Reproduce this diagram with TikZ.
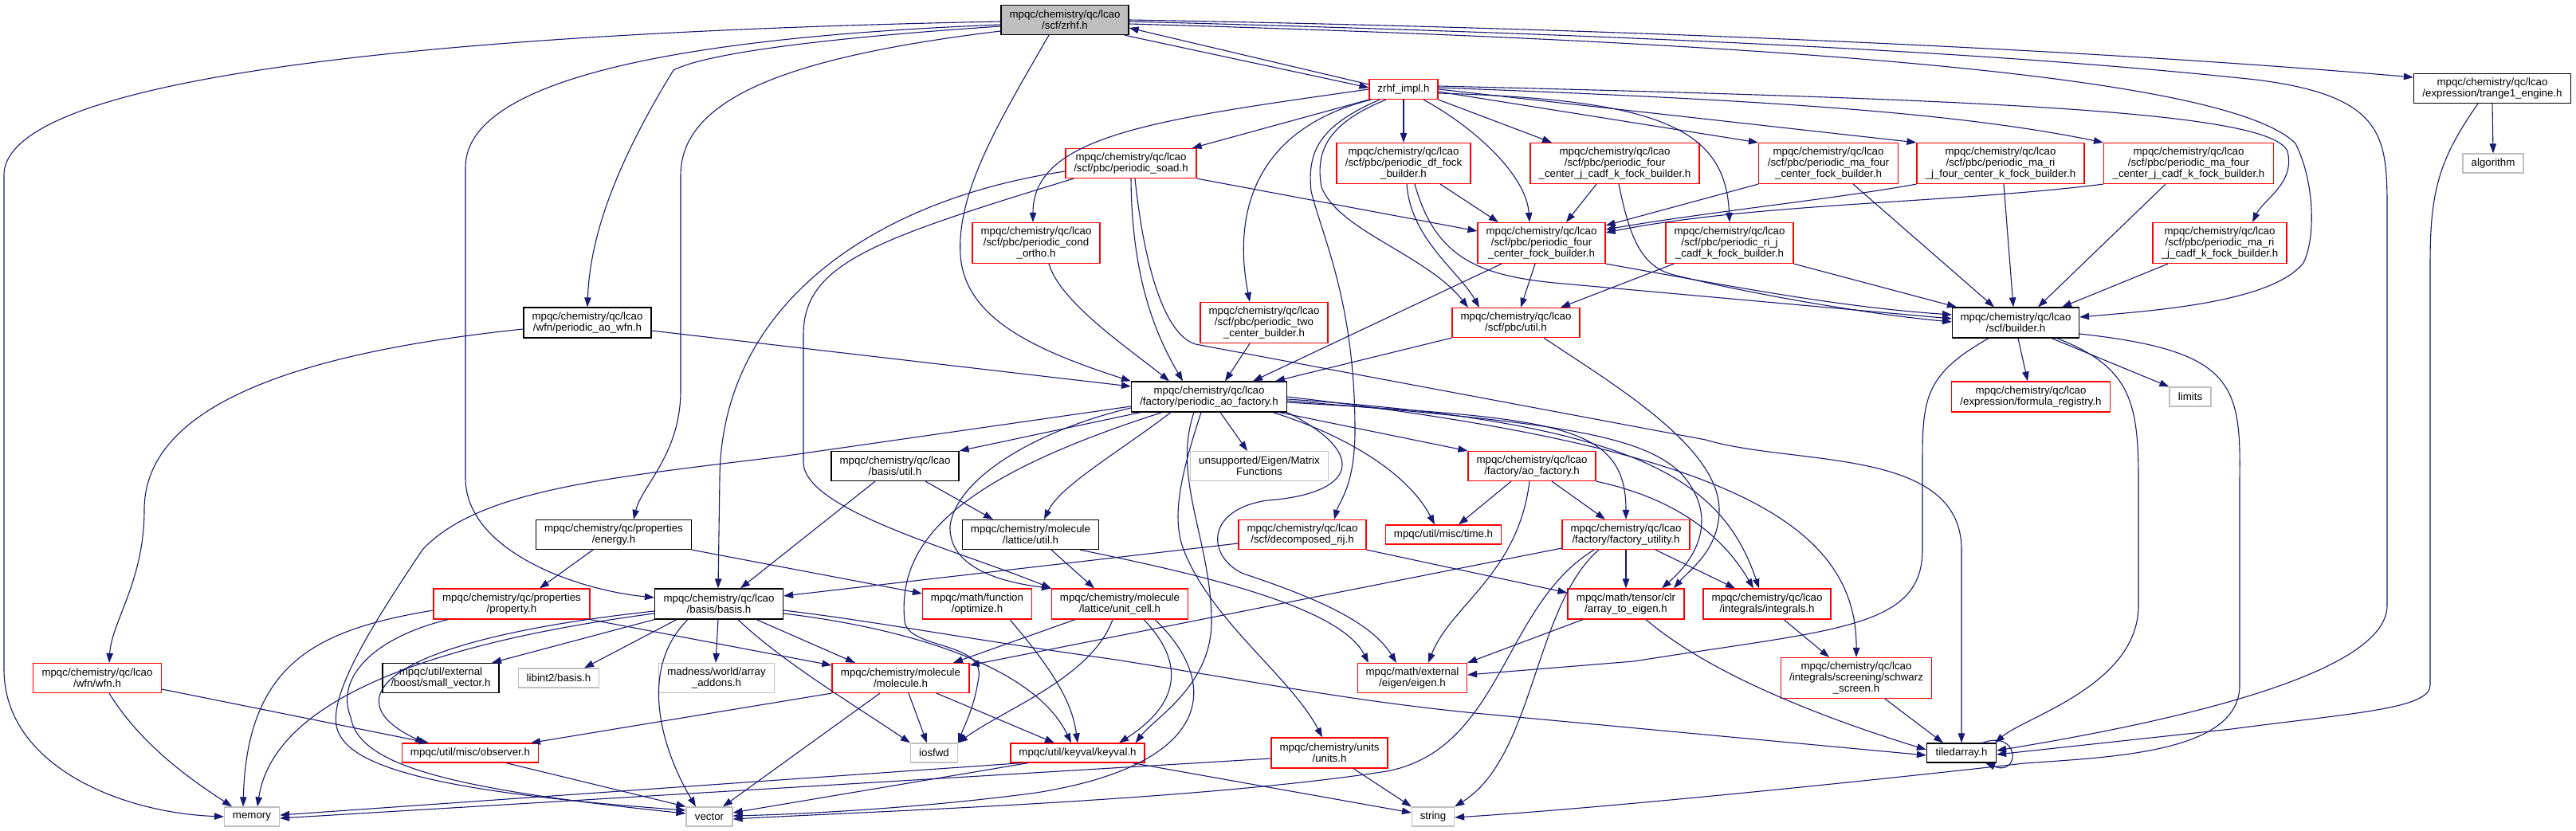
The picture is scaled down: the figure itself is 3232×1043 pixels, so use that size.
\documentclass[tikz,border=0pt]{standalone}
\usepackage{fontspec}
\setmainfont{Liberation Sans}
\usepackage{tikz}
\usetikzlibrary{arrows.meta}
\definecolor{edgeblue}{HTML}{191970}
\definecolor{nodegrey}{HTML}{BFBFBF}

\begin{document}
\begin{tikzpicture}[x=1pt, y=-1pt,
    box/.style={rectangle, draw, line width=1.2pt, fill=white, align=center, inner xsep=3pt, inner ysep=1pt, font=\fontsize{13.3}{13.6}\selectfont},
    boxred/.style={box, draw=red},
    boxblack/.style={box, draw=black},
    boxgrey/.style={box, draw=nodegrey},
    boxsel/.style={box, draw=black, fill=nodegrey},
    arrow/.style={-{Triangle[length=12pt,width=8.5pt]}, line width=1.1pt, draw=edgeblue}
]
    \path [use as bounding box, fill=white] (0,0) rectangle (3232,1043);

    \node [boxsel, minimum width=160pt, minimum height=37pt] (zrhf) at (1336,25) {mpqc/chemistry/qc/lcao\\/scf/zrhf.h};
    \node [boxred, minimum width=86pt, minimum height=25pt] (impl) at (1761,112) {zrhf\_impl.h};
    \node [boxred, minimum width=164pt, minimum height=37pt] (soad) at (1419,205) {mpqc/chemistry/qc/lcao\\/scf/pbc/periodic\_soad.h};
    \node [boxred, minimum width=160pt, minimum height=51pt] (cond) at (1300,305) {mpqc/chemistry/qc/lcao\\/scf/pbc/periodic\_cond\\\_ortho.h};
    \node [boxred, minimum width=168pt, minimum height=51pt] (dffock) at (1761,205) {mpqc/chemistry/qc/lcao\\/scf/pbc/periodic\_df\_fock\\\_builder.h};
    \node [boxred, minimum width=212pt, minimum height=51pt] (fourjk) at (2026,205) {mpqc/chemistry/qc/lcao\\/scf/pbc/periodic\_four\\\_center\_j\_cadf\_k\_fock\_builder.h};
    \node [boxred, minimum width=160pt, minimum height=51pt] (fourfock) at (1934,305) {mpqc/chemistry/qc/lcao\\/scf/pbc/periodic\_four\\\_center\_fock\_builder.h};
    \node [boxred, minimum width=175pt, minimum height=51pt] (mafour) at (2294,205) {mpqc/chemistry/qc/lcao\\/scf/pbc/periodic\_ma\_four\\\_center\_fock\_builder.h};
    \node [boxred, minimum width=210pt, minimum height=51pt] (marifour) at (2510,205) {mpqc/chemistry/qc/lcao\\/scf/pbc/periodic\_ma\_ri\\\_j\_four\_center\_k\_fock\_builder.h};
    \node [boxred, minimum width=213pt, minimum height=51pt] (mafourjk) at (2746,205) {mpqc/chemistry/qc/lcao\\/scf/pbc/periodic\_ma\_four\\\_center\_j\_cadf\_k\_fock\_builder.h};
    \node [boxred, minimum width=160pt, minimum height=51pt] (rijk) at (2170,305) {mpqc/chemistry/qc/lcao\\/scf/pbc/periodic\_ri\_j\\\_cadf\_k\_fock\_builder.h};
    \node [boxred, minimum width=168pt, minimum height=51pt] (marijk) at (2785,305) {mpqc/chemistry/qc/lcao\\/scf/pbc/periodic\_ma\_ri\\\_j\_cadf\_k\_fock\_builder.h};
    \node [boxblack, minimum width=197pt, minimum height=37pt] (trange) at (3127,111) {mpqc/chemistry/qc/lcao\\/expression/trange1\_engine.h};
    \node [boxgrey, minimum width=76pt, minimum height=24pt] (algo) at (3128,205) {algorithm};
    \node [boxblack, minimum width=160pt, minimum height=38pt] (aowfn) at (737,405) {mpqc/chemistry/qc/lcao\\/wfn/periodic\_ao\_wfn.h};
    \node [boxblack, minimum width=195pt, minimum height=37pt] (energy) at (770,671) {mpqc/chemistry/qc/properties\\/energy.h};
    \node [boxred, minimum width=160pt, minimum height=51pt] (twoc) at (1586,405) {mpqc/chemistry/qc/lcao\\/scf/pbc/periodic\_two\\\_center\_builder.h};
    \node [boxred, minimum width=160pt, minimum height=37pt] (pbcutil) at (1902,405) {mpqc/chemistry/qc/lcao\\/scf/pbc/util.h};
    \node [boxblack, minimum width=159pt, minimum height=38pt] (builder) at (2529,405) {mpqc/chemistry/qc/lcao\\/scf/builder.h};
    \node [boxblack, minimum width=195pt, minimum height=38pt] (paof) at (1517,498) {mpqc/chemistry/qc/lcao\\/factory/periodic\_ao\_factory.h};
    \node [boxred, minimum width=199pt, minimum height=38pt] (formula) at (2548,498) {mpqc/chemistry/qc/lcao\\/expression/formula\_registry.h};
    \node [boxgrey, minimum width=52pt, minimum height=24pt] (limits) at (2748,498) {limits};
    \node [boxblack, minimum width=160pt, minimum height=37pt] (butil) at (1123,585) {mpqc/chemistry/qc/lcao\\/basis/util.h};
    \node [boxgrey, minimum width=173pt, minimum height=37pt] (eigmf) at (1580,585) {unsupported/Eigen/Matrix\\Functions};
    \node [boxred, minimum width=160pt, minimum height=37pt] (aof) at (1922,585) {mpqc/chemistry/qc/lcao\\/factory/ao\_factory.h};
    \node [boxblack, minimum width=171pt, minimum height=37pt] (lutil) at (1293,671) {mpqc/chemistry/molecule\\/lattice/util.h};
    \node [boxred, minimum width=160pt, minimum height=37pt] (drij) at (1634,671) {mpqc/chemistry/qc/lcao\\/scf/decomposed\_rij.h};
    \node [boxred, minimum width=145pt, minimum height=24pt] (time) at (1811,671) {mpqc/util/misc/time.h};
    \node [boxred, minimum width=160pt, minimum height=37pt] (futil) at (2040,671) {mpqc/chemistry/qc/lcao\\/factory/factory\_utility.h};
    \node [boxred, minimum width=196pt, minimum height=38pt] (prop) at (642,758) {mpqc/chemistry/qc/properties\\/property.h};
    \node [boxblack, minimum width=161pt, minimum height=38pt] (basis) at (902,758) {mpqc/chemistry/qc/lcao\\/basis/basis.h};
    \node [boxred, minimum width=137pt, minimum height=38pt] (optim) at (1226,758) {mpqc/math/function\\/optimize.h};
    \node [boxred, minimum width=171pt, minimum height=38pt] (ucell) at (1405,758) {mpqc/chemistry/molecule\\/lattice/unit\_cell.h};
    \node [boxred, minimum width=146pt, minimum height=38pt] (atoe) at (2040,758) {mpqc/math/tensor/clr\\/array\_to\_eigen.h};
    \node [boxred, minimum width=160pt, minimum height=38pt] (integ) at (2217,758) {mpqc/chemistry/qc/lcao\\/integrals/integrals.h};
    \node [boxred, minimum width=161pt, minimum height=37pt] (wfn) at (122,851) {mpqc/chemistry/qc/lcao\\/wfn/wfn.h};
    \node [boxblack, minimum width=146pt, minimum height=37pt] (svec) at (553,851) {mpqc/util/external\\/boost/small\_vector.h};
    \node [boxgrey, minimum width=101pt, minimum height=24pt] (libint) at (701,851) {libint2/basis.h};
    \node [boxgrey, minimum width=145pt, minimum height=37pt] (madness) at (899,851) {madness/world/array\\\_addons.h};
    \node [boxred, minimum width=172pt, minimum height=37pt] (mol) at (1130,851) {mpqc/chemistry/molecule\\/molecule.h};
    \node [boxred, minimum width=137pt, minimum height=37pt] (eigen) at (1772,851) {mpqc/math/external\\/eigen/eigen.h};
    \node [boxred, minimum width=189pt, minimum height=51pt] (schwarz) at (2329,851) {mpqc/chemistry/qc/lcao\\/integrals/screening/schwarz\\\_screen.h};
    \node [boxred, minimum width=171pt, minimum height=24pt] (observer) at (590,945) {mpqc/util/misc/observer.h};
    \node [boxgrey, minimum width=59pt, minimum height=24pt] (iosfwd) at (1172,945) {iosfwd};
    \node [boxred, minimum width=168pt, minimum height=24pt] (keyval) at (1352,945) {mpqc/util/keyval/keyval.h};
    \node [boxred, minimum width=146pt, minimum height=38pt] (units) at (1668,945) {mpqc/chemistry/units\\/units.h};
    \node [boxblack, minimum width=87pt, minimum height=24pt] (tiled) at (2461,945) {tiledarray.h};
    \node [boxgrey, minimum width=69pt, minimum height=24pt] (memory) at (316,1025) {memory};
    \node [boxgrey, minimum width=58pt, minimum height=24pt] (vector) at (890,1025) {vector};
    \node [boxgrey, minimum width=53pt, minimum height=24pt] (string) at (1798,1025) {string};

    \draw [arrow] ([yshift=-2pt]zrhf.west) .. controls (600,40) and (5,90) .. (5,220) -- (5,840) .. controls (5,960) and (150,1020) .. (memory.west);
    \draw [arrow] ([yshift=-6pt]zrhf.west) .. controls (900,45) and (584,90) .. (584,210) -- (584,600) .. controls (584,690) and (720,740) .. ([yshift=8pt]basis.west);
    \draw [arrow] ([yshift=-8pt]zrhf.west) .. controls (1000,50) and (880,70) .. (845,88) .. controls (770,210) and (740,300) .. (aowfn.north);
    \draw [arrow] ([yshift=-14pt]zrhf.west) .. controls (1000,70) and (854,120) .. (854,220) -- (854,490) .. controls (854,570) and (805,610) .. ([xshift=25pt]energy.north);
    \draw [arrow] ([xshift=-20pt]zrhf.south) .. controls (1255,150) and (1200,240) .. (1205,320) .. controls (1210,400) and (1300,440) .. (paof.north west);
    \draw [arrow] ([xshift=-6pt]zrhf.south east) -- ([yshift=2pt]impl.west);
    \draw [arrow] ([yshift=6pt]impl.west) -- ([yshift=-10pt]zrhf.east);
    \draw [arrow] (zrhf.east) .. controls (2000,35) and (2600,60) .. ([yshift=14pt]trange.west);
    \draw [arrow] ([yshift=-2pt]zrhf.east) .. controls (2300,50) and (2640,80) .. (2830,100) .. controls (2990,120) and (2995,170) .. (2995,260) -- (2995,760) .. controls (2995,850) and (2700,910) .. ([yshift=3pt]tiled.east);
    \draw [arrow] ([yshift=-5pt]zrhf.east) .. controls (2300,55) and (2800,100) .. (2880,180) .. controls (2905,230) and (2905,300) .. (2890,330) .. controls (2850,380) and (2700,390) .. ([yshift=7pt]builder.east);

    \draw [arrow] (impl.south west) -- ([xshift=-6pt]soad.north east);
    \draw [arrow] (impl.west) .. controls (1450,150) and (1296,170) .. ([xshift=-4pt]cond.north);
    \draw [arrow] (impl.south) -- (dffock.north);
    \draw [arrow] (impl.south east) -- ([xshift=-79pt]fourjk.north);
    \draw [arrow] ([xshift=25pt]impl.south) .. controls (1850,160) and (1915,220) .. ([xshift=-15pt]fourfock.north);
    \draw [arrow] ([yshift=-3pt]impl.east) -- (mafour.north west);
    \draw [arrow] (impl.east) -- (marifour.north west);
    \draw [arrow] ([yshift=2pt]impl.east) .. controls (2200,125) and (2450,140) .. (mafourjk.north west);
    \draw [arrow] ([yshift=-5pt]impl.east) .. controls (2080,125) and (2165,160) .. (rijk.north);
    \draw [arrow] ([yshift=4pt]impl.east) .. controls (2500,125) and (2850,140) .. (2870,190) .. controls (2880,230) and (2840,250) .. ([xshift=41pt]marijk.north);
    \draw [arrow] ([xshift=3pt]impl.south west) .. controls (1580,160) and (1545,260) .. ([xshift=-18pt]twoc.north);
    \draw [arrow] ([xshift=-30pt]impl.south) .. controls (1655,158) and (1640,190) .. (1645,240) .. controls (1660,300) and (1700,380) .. (1700,540) .. controls (1700,610) and (1680,630) .. ([xshift=40pt]drij.north);
    \draw [arrow] ([xshift=-22pt]impl.south) .. controls (1665,155) and (1650,190) .. (1658,235) .. controls (1680,290) and (1790,320) .. ([xshift=-60pt]pbcutil.north);

    \draw [arrow] ([xshift=46pt]dffock.south) -- ([xshift=-54pt]fourfock.north);
    \draw [arrow] ([xshift=4pt]dffock.south) .. controls (1770,300) and (1830,340) .. ([xshift=-46pt]pbcutil.north);
    \draw [arrow] ([xshift=14pt]dffock.south) .. controls (1800,320) and (1850,345) .. (1950,355) -- ([yshift=5pt]builder.west);
    \draw [arrow] ([xshift=-8pt]fourfock.south) -- ([xshift=6pt]pbcutil.north);
    \draw [arrow] (fourfock.south east) .. controls (2150,355) and (2300,385) .. ([yshift=10pt]builder.west);
    \draw [arrow] ([xshift=-50pt]fourfock.south) -- ([xshift=55pt]paof.north);
    \draw [arrow] ([xshift=-23pt]fourjk.south) -- ([xshift=31pt]fourfock.north);
    \draw [arrow] ([xshift=5pt]fourjk.south) .. controls (2045,300) and (2060,335) .. (2100,345) .. controls (2200,370) and (2350,395) .. ([yshift=1pt]builder.west);
    \draw [arrow] (mafour.south west) -- ([yshift=22pt]fourfock.east);
    \draw [arrow] ([xshift=31pt]mafour.south) -- ([xshift=-27pt]builder.north);
    \draw [arrow] (marifour.south west) .. controls (2300,250) and (2150,265) .. ([yshift=17pt]fourfock.east);
    \draw [arrow] ([xshift=4pt]marifour.south) -- ([xshift=-3pt]builder.north);
    \draw [arrow] (mafourjk.south west) .. controls (2450,255) and (2200,255) .. ([yshift=13pt]fourfock.east);
    \draw [arrow] ([xshift=-29pt]mafourjk.south) -- ([xshift=28pt]builder.north);
    \draw [arrow] ([xshift=-70pt]rijk.south) -- ([xshift=56pt]pbcutil.north);
    \draw [arrow] (rijk.south east) -- ([xshift=6pt]builder.north west);
    \draw [arrow] ([xshift=-65pt]marijk.south) -- ([xshift=58pt]builder.north);

    \draw [arrow] (soad.south east) -- ([yshift=15pt]fourfock.west);
    \draw [arrow] (soad.south) .. controls (1420,350) and (1450,420) .. ([xshift=-33pt]paof.north);
    \draw [arrow] ([yshift=-10pt]soad.west) .. controls (1100,250) and (905,380) .. (903,600) -- ([xshift=-1pt]basis.north);
    \draw [arrow] ([xshift=-72pt]soad.south) .. controls (1100,300) and (1008,330) .. (1008,420) -- (1008,580) .. controls (1008,640) and (1200,690) .. (ucell.north west);
    \draw [arrow] ([xshift=5pt]soad.south) .. controls (1435,330) and (1460,420) .. (1500,432) -- (2140,552) .. controls (2250,585) and (2461,560) .. (2461,690) -- (tiled.north);
    \draw [arrow] ([xshift=16pt]cond.south) .. controls (1330,380) and (1420,440) .. ([xshift=-50pt]paof.north);
    \draw [arrow] ([xshift=-18pt]twoc.south) -- ([xshift=20pt]paof.north);
    \draw [arrow] (pbcutil.south west) -- ([xshift=83pt]paof.north);
    \draw [arrow] ([xshift=35pt]pbcutil.south) .. controls (2020,480) and (2157,560) .. (2157,640) .. controls (2157,690) and (2120,715) .. ([xshift=60pt]atoe.north);

    \draw [arrow] ([yshift=-10pt]aowfn.east) -- ([yshift=13pt]paof.west);
    \draw [arrow] ([yshift=-8pt]aowfn.west) .. controls (400,440) and (181,500) .. (181,640) .. controls (181,730) and (140,780) .. ([xshift=15pt]wfn.north);
    \draw [arrow] ([xshift=-26pt]energy.south) -- ([xshift=35pt]prop.north);
    \draw [arrow] (energy.south east) -- ([yshift=13pt]optim.west);

    \draw [arrow] ([yshift=-8pt]prop.west) .. controls (400,790) and (310,830) .. ([xshift=-11pt]memory.north);
    \draw [arrow] ([xshift=-80pt]prop.south) .. controls (470,800) and (420,850) .. (440,900) .. controls (450,960) and (560,990) .. ([yshift=4pt]vector.west);
    \draw [arrow] (prop.south east) -- ([yshift=16pt]mol.west);

    \draw [arrow] (basis.south west) -- ([xshift=64pt]svec.north);
    \draw [arrow] ([xshift=-53pt]basis.south) -- ([xshift=32pt]libint.north);
    \draw [arrow] ([xshift=-1pt]basis.south) -- ([xshift=-1pt]madness.north);
    \draw [arrow] ([xshift=-39pt]basis.south) .. controls (800,840) and (830,940) .. ([xshift=-17pt]vector.north);
    \draw [arrow] ([xshift=47pt]basis.south) -- ([xshift=-57pt]mol.north);
    \draw [arrow] ([xshift=24pt]basis.south) .. controls (980,830) and (1080,890) .. (iosfwd.north west);
    \draw [arrow] ([yshift=-12pt]basis.east) .. controls (1150,790) and (1300,840) .. ([xshift=-8pt]keyval.north);
    \draw [arrow] ([yshift=-8pt]basis.east) .. controls (1100,780) and (1200,800) .. (1400,828) .. controls (1600,860) and (1700,880) .. (1850,895) -- ([yshift=-3pt]tiled.west);
    \draw [arrow] ([yshift=-12pt]basis.west) .. controls (480,815) and (340,900) .. ([xshift=7pt]memory.north);
    \draw [arrow] ([yshift=-9pt]basis.west) .. controls (470,805) and (420,880) .. ([xshift=-57pt]observer.north);

    \draw [arrow] ([xshift=-86pt]paof.south) -- (butil.north east);
    \draw [arrow] ([yshift=-12pt]paof.west) -- (980,573) .. controls (760,600) and (600,615) .. (530,690) .. controls (470,780) and (405,880) .. (425,920) .. controls (445,965) and (560,995) .. ([yshift=8pt]vector.west);
    \draw [arrow] ([yshift=-14pt]paof.west) .. controls (1300,540) and (1200,600) .. (1192,660) .. controls (1190,710) and (1250,730) .. (ucell.north west);
    \draw [arrow] ([xshift=-59pt]paof.south) .. controls (1200,600) and (1125,680) .. (1135,780) .. controls (1140,815) and (1235,805) .. (1228,850) .. controls (1222,890) and (1210,910) .. (iosfwd.north east);
    \draw [arrow] ([xshift=-48pt]paof.south) .. controls (1400,570) and (1330,610) .. ([xshift=17pt]lutil.north);
    \draw [arrow] ([xshift=14pt]paof.south) -- ([xshift=-15pt]eigmf.north);
    \draw [arrow] ([xshift=88pt]paof.south) -- (aof.north west);
    \draw [arrow] ([xshift=80pt]paof.south) .. controls (1700,550) and (1770,600) .. ([xshift=-11pt]time.north);
    \draw [arrow] ([yshift=-7pt]paof.east) .. controls (1950,525) and (2040,530) .. (futil.north);
    \draw [arrow] ([yshift=-5pt]paof.east) .. controls (1950,530) and (2060,545) .. (2110,595) .. controls (2150,640) and (2140,690) .. ([xshift=45pt]atoe.north);
    \draw [arrow] ([yshift=-3pt]paof.east) .. controls (2050,530) and (2160,600) .. ([xshift=-10pt]integ.north);
    \draw [arrow] (paof.east) .. controls (2150,560) and (2330,650) .. (schwarz.north);
    \draw [arrow] ([xshift=-19pt]paof.south) .. controls (1470,600) and (1520,680) .. (1520,780) .. controls (1520,860) and (1450,900) .. ([xshift=-12pt]keyval.north east);
    \draw [arrow] ([xshift=-10pt]paof.south) .. controls (1480,600) and (1470,650) .. (1485,690) .. controls (1520,780) and (1620,850) .. ([xshift=-9pt]units.north);
    \draw [arrow] (paof.south east) .. controls (1720,570) and (1700,620) .. (1590,628) .. controls (1510,640) and (1515,700) .. (1560,720) .. controls (1650,750) and (1720,780) .. ([xshift=-20pt]eigen.north);

    \draw [arrow] ([xshift=-26pt]aof.south) -- ([xshift=19pt]time.north);
    \draw [arrow] ([xshift=-3pt]aof.south) .. controls (1905,720) and (1820,760) .. ([xshift=20pt]eigen.north);
    \draw [arrow] ([xshift=25pt]aof.south) -- ([xshift=-26pt]futil.north);
    \draw [arrow] (aof.south east) .. controls (2100,625) and (2160,670) .. ([xshift=-17pt]integ.north);
    \draw [arrow] ([yshift=-11pt]drij.west) -- ([yshift=10pt]basis.east);
    \draw [arrow] (drij.south east) -- ([yshift=14pt]atoe.west);
    \draw [arrow] ([xshift=26pt]lutil.south) -- ([xshift=-32pt]ucell.north);
    \draw [arrow] ([xshift=62pt]lutil.south) .. controls (1500,720) and (1680,760) .. ([xshift=-55pt]eigen.north);
    \draw [arrow] ([xshift=38pt]butil.south) -- ([xshift=-47pt]lutil.north);
    \draw [arrow] ([xshift=-25pt]butil.south) -- ([xshift=27pt]basis.north);

    \draw [arrow] ([yshift=-17pt]futil.west) -- ([yshift=16pt]mol.east);
    \draw [arrow] (futil.south) -- (atoe.north);
    \draw [arrow] ([xshift=37pt]futil.south) -- ([xshift=-40pt]integ.north);
    \draw [arrow] ([xshift=-40pt]futil.south) .. controls (1885,760) and (1885,940) .. (1740,968) .. controls (1500,1005) and (1100,1018) .. ([yshift=-3pt]vector.east);
    \draw [arrow] ([xshift=-34pt]futil.south) .. controls (1925,760) and (1925,950) .. (string.north east);
    \draw [arrow] ([xshift=-54pt]atoe.south) -- (eigen.north east);
    \draw [arrow] ([xshift=25pt]atoe.south) .. controls (2150,850) and (2300,905) .. ([yshift=4pt]tiled.west);
    \draw [arrow] ([xshift=21pt]integ.south) -- ([xshift=-34pt]schwarz.north);
    \draw [arrow] ([xshift=36pt]schwarz.south) -- ([xshift=-23pt]tiled.north);

    \draw [arrow] ([xshift=3pt]builder.south) -- ([xshift=-4pt]formula.north);
    \draw [arrow] ([xshift=45pt]builder.south) -- (limits.north west);
    \draw [arrow] ([xshift=52pt]builder.south) .. controls (2670,460) and (2683,500) .. (2683,600) -- (2683,760) .. controls (2683,860) and (2540,900) .. ([xshift=-2pt]tiled.north east);
    \draw [arrow] ([yshift=-14pt]builder.east) .. controls (2800,440) and (2812,480) .. (2810,600) -- (2810,860) .. controls (2810,945) and (2650,950) .. (2540,958) .. controls (2300,985) and (2000,1015) .. ([yshift=-1pt]string.east);
    \draw [arrow] ([xshift=-34pt]builder.south) .. controls (2415,470) and (2412,500) .. (2412,580) -- (2412,690) .. controls (2412,790) and (2300,790) .. (2050,830) -- ([yshift=4pt]eigen.east);
    \draw [arrow] (trange.south) -- (algo.north);
    \draw [arrow] ([xshift=-18pt]trange.south) .. controls (3060,200) and (3049,240) .. (3049,330) -- (3049,860) .. controls (3049,890) and (2950,895) .. (2800,915) -- ([yshift=-2pt]tiled.east);
    \draw [arrow] ([xshift=26pt]tiled.north) .. controls (2535,915) and (2535,975) .. ([xshift=30pt]tiled.south);

    \draw [arrow] ([xshift=-56pt]ucell.south) -- ([xshift=66pt]mol.north);
    \draw [arrow] ([xshift=-9pt]ucell.south) .. controls (1370,850) and (1260,890) .. (iosfwd.north east);
    \draw [arrow] ([xshift=30pt]ucell.south) .. controls (1495,840) and (1470,890) .. ([xshift=52pt]keyval.north);
    \draw [arrow] ([xshift=44pt]ucell.south) .. controls (1535,860) and (1520,960) .. (1300,995) .. controls (1150,1015) and (1000,1022) .. ([yshift=1pt]vector.east);
    \draw [arrow] ([xshift=41pt]optim.south) .. controls (1320,840) and (1345,880) .. (keyval.north);
    \draw [arrow] (mol.south west) -- ([xshift=76pt]observer.north);
    \draw [arrow] ([xshift=10pt]mol.south) -- ([xshift=-9pt]iosfwd.north);
    \draw [arrow] ([xshift=45pt]mol.south) -- ([xshift=-29pt]keyval.north);
    \draw [arrow] ([xshift=-26pt]mol.south) -- ([xshift=17pt]vector.north);
    \draw [arrow] ([xshift=15pt]wfn.south) .. controls (180,940) and (250,985) .. ([xshift=-25pt]memory.north);
    \draw [arrow] ([yshift=-14pt]wfn.east) -- ([xshift=-52pt]observer.north);
    \draw [arrow] ([xshift=45pt]observer.south) -- (vector.north west);
    \draw [arrow] ([xshift=-70pt]keyval.south) -- ([yshift=2pt]memory.east);
    \draw [arrow] ([xshift=-62pt]keyval.south) -- ([yshift=5pt]vector.east);
    \draw [arrow] ([xshift=69pt]keyval.south) -- ([yshift=5pt]string.west);
    \draw [arrow] ([yshift=-7pt]units.west) -- ([yshift=-2pt]memory.east);
    \draw [arrow] ([xshift=30pt]units.south) -- (string.north west);
\end{tikzpicture}
\end{document}
